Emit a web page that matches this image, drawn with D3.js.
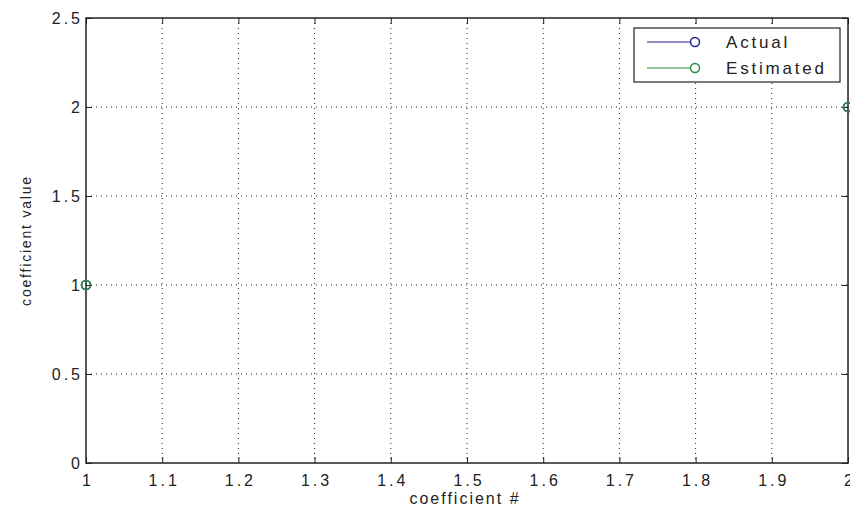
<!DOCTYPE html>
<html>
<head>
<meta charset="utf-8">
<script src="https://cdn.jsdelivr.net/npm/d3@7"></script>
<style>
  body { margin: 0; background: #fff; }
  svg { display: block; font-family: "Liberation Sans", Arial, sans-serif; }
</style>
</head>
<body>
<svg id="chart" width="850" height="508"></svg>
<script>
const coefIndex = [1, 2];
const actualValues = [1, 2];
const estimatedValues = [1, 2];
const xTicks = [1, 1.1, 1.2, 1.3, 1.4, 1.5, 1.6, 1.7, 1.8, 1.9, 2];
const yTicks = [0, 0.5, 1, 1.5, 2, 2.5];
const seriesNames = ["Actual", "Estimated"];

const width = 850, height = 508, margin = {top: 18, right: 2, bottom: 45, left: 86};
const plotW = width - margin.left - margin.right, plotH = height - margin.top - margin.bottom;

const svg = d3.select("#chart");
const g = svg.append("g").attr("transform", `translate(${margin.left},${margin.top})`);

const x = d3.scaleLinear().domain([1, 2]).range([0, plotW]);
const y = d3.scaleLinear().domain([0, 2.5]).range([plotH, 0]);

// dotted grid
g.append("g").selectAll("line").data(xTicks.slice(1, -1)).join("line")
    .attr("x1", d => x(d)).attr("x2", d => x(d)).attr("y1", 0).attr("y2", plotH)
    .attr("stroke", "#222").attr("stroke-dasharray", "1,4");
g.append("g").selectAll("line").data(yTicks.slice(1, -1)).join("line")
    .attr("y1", d => y(d)).attr("y2", d => y(d)).attr("x1", 0).attr("x2", plotW)
    .attr("stroke", "#222").attr("stroke-dasharray", "1,4");

// axes, ticks inside
const tickFont = g => g.selectAll("text").attr("font-size", 16).attr("fill", "#222")
    .attr("font-family", "Liberation Sans, Arial, sans-serif").style("letter-spacing", "3px");

g.append("g").attr("transform", `translate(0,${plotH})`)
    .call(d3.axisBottom(x).tickValues(xTicks).tickFormat(d3.format("")).tickSizeInner(-6).tickSizeOuter(0).tickPadding(12))
    .call(a => a.select(".domain").remove())
    .call(a => a.selectAll("line").attr("stroke", "#222"))
    .call(tickFont)
    .call(a => a.selectAll("text").attr("dx", "1.5px"));
g.append("g")
    .call(d3.axisTop(x).tickValues(xTicks).tickFormat("").tickSizeInner(-6).tickSizeOuter(0))
    .call(a => a.select(".domain").remove())
    .call(a => a.selectAll("line").attr("stroke", "#222"));
g.append("g")
    .call(d3.axisLeft(y).tickValues(yTicks).tickFormat(d3.format("")).tickSizeInner(-6).tickSizeOuter(0).tickPadding(6))
    .call(a => a.select(".domain").remove())
    .call(a => a.selectAll("line").attr("stroke", "#222"))
    .call(tickFont)
    .call(a => a.selectAll("text").attr("dx", "3px"));
g.append("g").attr("transform", `translate(${plotW},0)`)
    .call(d3.axisRight(y).tickValues(yTicks).tickFormat("").tickSizeInner(-6).tickSizeOuter(0))
    .call(a => a.select(".domain").remove())
    .call(a => a.selectAll("line").attr("stroke", "#222"));

g.append("rect").attr("width", plotW).attr("height", plotH)
    .attr("fill", "none").attr("stroke", "#222").attr("stroke-width", 1.5);

// markers
const colors = {"Actual": "#22229a", "Estimated": "#2f8a3a"};
const series = [
  {name: "Actual", values: actualValues},
  {name: "Estimated", values: estimatedValues}
];
series.forEach(s => {
  g.append("g").selectAll("circle").data(coefIndex.map((c, i) => [c, s.values[i]])).join("circle")
      .attr("cx", d => x(d[0])).attr("cy", d => y(d[1])).attr("r", 4.5)
      .attr("fill", "none").attr("stroke", colors[s.name]).attr("stroke-width", 1.6);
});

// axis labels
svg.append("text").attr("x", margin.left + plotW / 2 - 2).attr("y", 504)
    .attr("text-anchor", "middle").attr("font-size", 16).attr("fill", "#222")
    .style("letter-spacing", "2px").text("coefficient #");
svg.append("text").attr("transform", `translate(31,${margin.top + plotH / 2}) rotate(-90)`)
    .attr("text-anchor", "middle").attr("font-size", 14).attr("fill", "#222")
    .style("letter-spacing", "1.8px").text("coefficient value");

// legend
const lg = svg.append("g").attr("transform", "translate(634,28)");
lg.append("rect").attr("width", 206).attr("height", 54).attr("fill", "#fff")
    .attr("stroke", "#222").attr("stroke-width", 1.2);
seriesNames.forEach((name, i) => {
  const yy = 14 + i * 26;
  lg.append("line").attr("x1", 13).attr("x2", 56).attr("y1", yy).attr("y2", yy)
      .attr("stroke", colors[name]).attr("stroke-width", 1.2);
  lg.append("circle").attr("cx", 61).attr("cy", yy).attr("r", 4.5)
      .attr("fill", "none").attr("stroke", colors[name]).attr("stroke-width", 1.5);
  lg.append("text").attr("x", 92).attr("y", yy + 6).attr("font-size", 17).attr("fill", "#222")
      .style("letter-spacing", "2.8px").text(name);
});
</script>
</body>
</html>
